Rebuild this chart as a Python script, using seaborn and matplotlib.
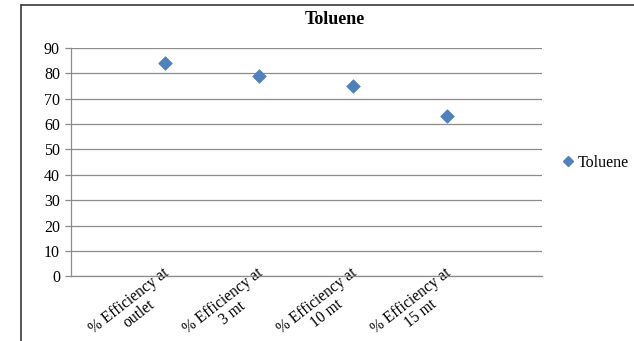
import matplotlib
matplotlib.use("Agg")
import matplotlib.pyplot as plt
import matplotlib.transforms as mtransforms
import seaborn as sns
import pandas as pd
from matplotlib.lines import Line2D

categories = ["% Efficiency at\noutlet", "% Efficiency at\n3 mt",
              "% Efficiency at\n10 mt", "% Efficiency at\n15 mt"]
values = [84, 79, 75, 63]
series_name = "Toluene"
y_ticks = [0, 10, 20, 30, 40, 50, 60, 70, 80, 90]

sns.set_theme(style="white")
plt.rcParams["font.family"] = ["Liberation Serif", "DejaVu Serif"]
plt.rcParams["text.color"] = "black"
plt.rcParams["xtick.labelcolor"] = "black"
plt.rcParams["ytick.labelcolor"] = "black"

df = pd.DataFrame({"pos": [1, 2, 3, 4], "value": values, "series": series_name})

W, H = 634, 341
fig = plt.figure(figsize=(W / 100, H / 100), dpi=100)
ax = fig.add_axes([71 / W, 1 - 276.3 / H, 470.5 / W, 228.3 / H])

sns.scatterplot(data=df, x="pos", y="value", ax=ax, marker="D", s=48,
                color="#4F81BD", edgecolor="#4F81BD", linewidth=0.5,
                legend=False, zorder=3)

ax.set_xlim(0, 5)
ax.set_ylim(0, 90)
ax.set_yticks(y_ticks)
ax.set_yticklabels([str(v) for v in y_ticks], fontsize=11.5)
ax.set_xticks([1, 2, 3, 4])
ax.set_xticklabels(categories, rotation=38, ha="right", va="top",
                   rotation_mode="anchor", fontsize=11.2,
                   multialignment="center", linespacing=0.95)
ax.set_xlabel("")
ax.set_ylabel("")

ax.grid(axis="y", color="#8c8c8c", linewidth=0.9)
ax.grid(axis="x", visible=False)
for side in ["top", "right"]:
    ax.spines[side].set_visible(False)
for side in ["left", "bottom"]:
    ax.spines[side].set_color("#8c8c8c")
    ax.spines[side].set_linewidth(0.9)
ax.tick_params(axis="y", which="both", left=True, length=4, width=0.9,
               color="#8c8c8c", pad=4)
ax.tick_params(axis="x", which="both", bottom=False, length=0, pad=0)

# category labels sit slightly above their tick position
shift = mtransforms.ScaledTranslation(-0.03, 0.11, fig.dpi_scale_trans)
for lab in ax.get_xticklabels():
    lab.set_transform(lab.get_transform() + shift)

fig.text(335 / W, 1 - 19 / H, series_name, ha="center", va="center",
         fontsize=13, fontweight="bold")

handle = Line2D([], [], marker="D", linestyle="none", color="#4F81BD",
                markersize=5.5)
fig.legend([handle], [series_name], loc="center left",
           bbox_to_anchor=(563 / W, 1 - 163 / H), frameon=False,
           fontsize=11.5, handlelength=0.6, handletextpad=0.3,
           borderpad=0, borderaxespad=0)

# chart border (left and top edges)
fig.add_artist(Line2D([21 / W, 21 / W], [0, 1 - 4.5 / H],
                      transform=fig.transFigure, color="#3a3a3a", linewidth=1.2))
fig.add_artist(Line2D([21 / W, 1], [1 - 4.5 / H, 1 - 4.5 / H],
                      transform=fig.transFigure, color="#3a3a3a", linewidth=1.2))

fig.savefig("out.png", dpi=100)
